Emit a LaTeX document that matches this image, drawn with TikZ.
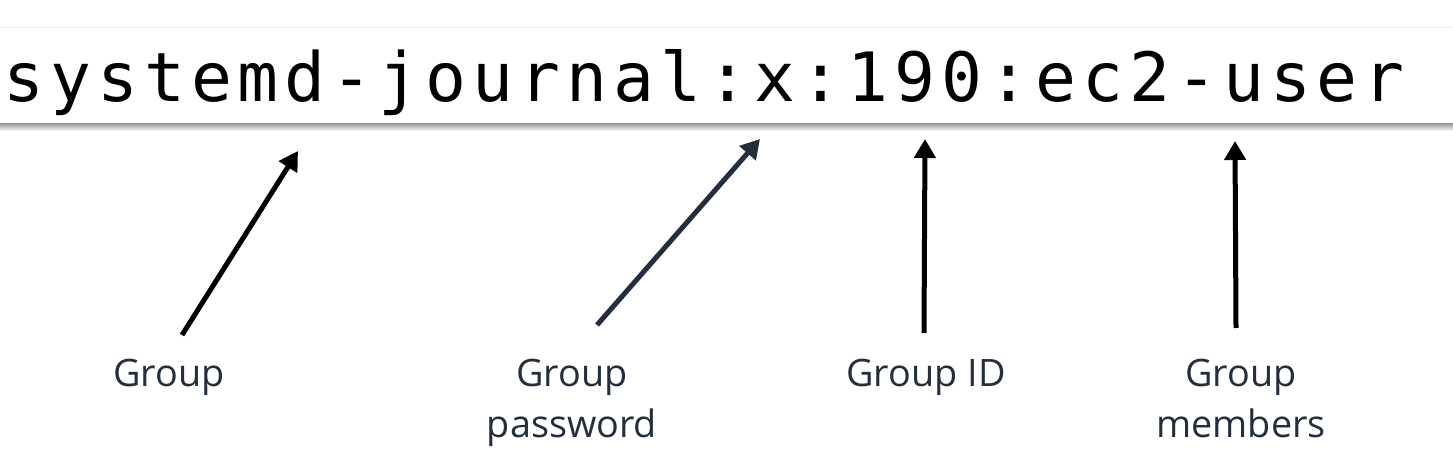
\documentclass[tikz,border=0pt]{standalone}
\usepackage{fontspec}
\setmainfont{Open Sans}
\setmonofont{DejaVu Sans Mono}
\usepackage{tikz}
\usetikzlibrary{arrows.meta}
\usetikzlibrary{positioning}

\definecolor{awsnavy}{HTML}{232F3E}

\begin{document}
\begin{tikzpicture}[x=0.02cm,y=-0.02cm,
  fieldarrow/.style={line width=0.1cm,-{Triangle[length=0.38cm,width=0.42cm]}},
  fieldlabel/.style={draw=none,align=center,inner sep=0pt,anchor=base,text=awsnavy,
    font=\fontsize{21.5pt}{29pt}\selectfont}]

\useasboundingbox (0,0) rectangle (1453,462);

% terminal strip
\draw[gray!12,line width=0.02cm] (0,28) -- (1453,28);
\shade[top color=gray!75,bottom color=white] (0,124) rectangle (1453,131);

\node[draw=none,inner sep=0pt,anchor=base west,font=\ttfamily\fontsize{38.7pt}{46pt}\selectfont\addfontfeature{LetterSpace=8.8}] (line) at (3,102) {systemd-journal:x:190:ec2-user};

% arrow ends
\coordinate (g0) at (182,335);
\coordinate (g1) at (298,151);
\coordinate (p0) at (597,325);
\coordinate (p1) at (760,139);
\coordinate (i0) at (924,333);
\coordinate (i1) at (925,139);
\coordinate (m0) at (1236,328);
\coordinate (m1) at (1235,141);

\draw[fieldarrow,black] (g0) -- (g1);
\draw[fieldarrow,awsnavy] (p0) -- (p1);
\draw[fieldarrow,black] (i0) -- (i1);
\draw[fieldarrow,black] (m0) -- (m1);

% labels (base = last line)
\node[fieldlabel] (grp) at (169,386) {Group};
\node[fieldlabel] (pwd) at (572,437) {Group\\password};
\node[fieldlabel] (gid) at (926,386) {Group ID};
\node[fieldlabel] (mem) at (1241,437) {Group\\members};

\end{tikzpicture}
\end{document}
